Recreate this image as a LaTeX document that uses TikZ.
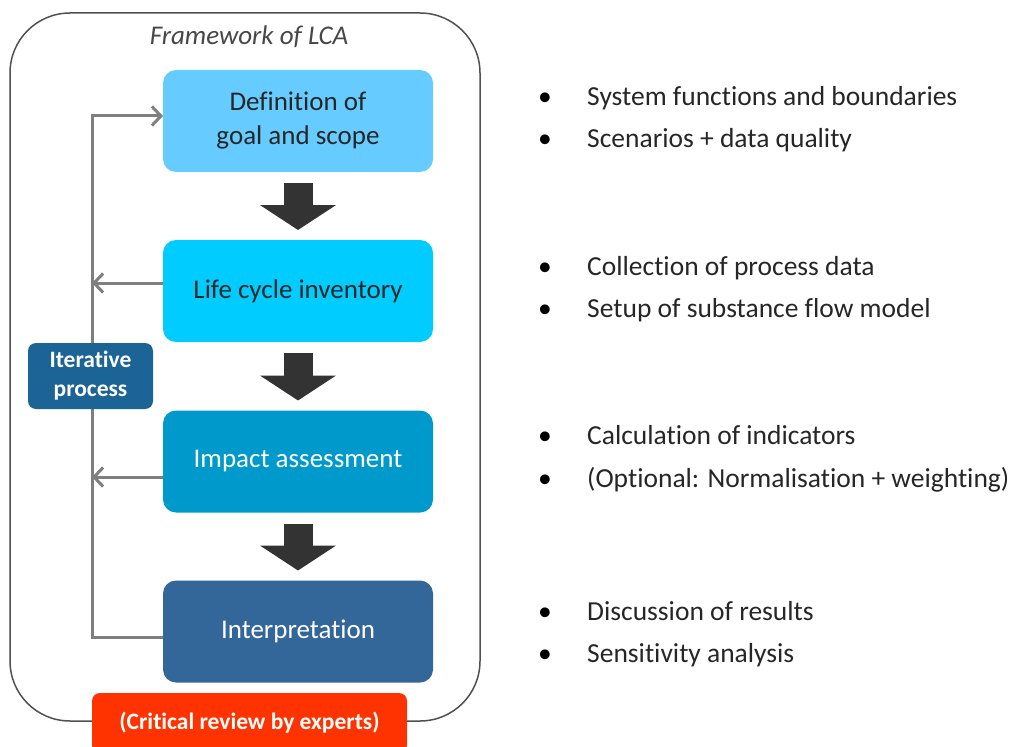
\documentclass[tikz,border=0pt]{standalone}
\usepackage{fontspec}
\setmainfont{Carlito}[Ligatures=NoCommon]
\usetikzlibrary{arrows.meta}

\definecolor{GoalBlue}{HTML}{66CCFF}
\definecolor{InvBlue}{HTML}{00CCFF}
\definecolor{ImpBlue}{HTML}{0099CC}
\definecolor{IntBlue}{HTML}{336699}
\definecolor{IterBlue}{HTML}{1C6496}
\definecolor{ReviewRed}{HTML}{FF3300}
\definecolor{LoopGray}{HTML}{7F7F7F}
\definecolor{ArrowGray}{HTML}{333333}
\definecolor{FrameGray}{HTML}{505050}
\definecolor{TextGray}{HTML}{262626}

\begin{document}
\begin{tikzpicture}[x=1pt,y=-1pt]
  \tikzset{BoxStyle/.style = {
    shape           = rectangle,
    rounded corners = 13pt,
    minimum width   = 270pt,
    minimum height  = 102pt,
    inner sep       = 0pt,
    outer sep       = 0pt,
    align           = center,
    font            = \fontsize{27}{34}\selectfont
    }
  }
  \tikzset{TagStyle/.style = {
    shape           = rectangle,
    rounded corners = 8pt,
    inner sep       = 0pt,
    outer sep       = 0pt,
    align           = center,
    text            = white,
    font            = \fontsize{23.5}{29}\selectfont\bfseries
    }
  }
  \tikzset{BlockArrow/.style = {
    draw            = ArrowGray,
    line width      = 29pt,
    shorten <=      11pt,
    shorten >=      10pt,
    -{Triangle[width=75pt,length=25pt]}
    }
  }
  \tikzset{LoopStyle/.style = {
    draw            = LoopGray,
    line width      = 3pt,
    -{Straight Barb[length=9pt,width=19pt]}
    }
  }
  \tikzset{ItemStyle/.style = {
    anchor          = base west,
    inner sep       = 0pt,
    text            = TextGray,
    font            = \fontsize{27.5}{33}\selectfont
    }
  }
  \tikzset{DotStyle/.style = {
    anchor          = base,
    inner sep       = 0pt,
    text            = black,
    font            = \fontsize{27.5}{33}\selectfont
    }
  }

  \useasboundingbox (0,0) rectangle (1016,746);
  \clip (0,0) rectangle (1016,746);

  % frame
  \draw[FrameGray, line width=1.5pt, rounded corners=60pt] (10,13) rectangle (480,721);
  \node[text=TextGray!85, font=\fontsize{27}{33}\selectfont\itshape] (T1) at (249,37) {Framework of LCA};

  % phases
  \node[BoxStyle, fill=GoalBlue, text=TextGray] (A1) at (298,121) {Definition of\\goal and scope};
  \node[BoxStyle, fill=InvBlue, text=TextGray] (B1) at (298,291) {Life cycle inventory};
  \node[BoxStyle, fill=ImpBlue, text=white] (C1) at (298,461.5) {Impact assessment};
  \node[BoxStyle, fill=IntBlue, text=white] (D1) at (298,631.5) {Interpretation};

  \draw[BlockArrow] (A1.south) -- (B1.north);
  \draw[BlockArrow] (B1.south) -- (C1.north);
  \draw[BlockArrow] (C1.south) -- (D1.north);

  % iteration loop
  \coordinate (L1) at (92,116);
  \coordinate (L2) at (92,283);
  \coordinate (L3) at (92,477);
  \coordinate (L4) at (92,637);
  \draw[LoopStyle] (D1.west |- L4) -| (L1) -- (A1.west |- L1);
  \draw[LoopStyle] (B1.west |- L2) -- (L2);
  \draw[LoopStyle] (C1.west |- L3) -- (L3);

  \node[TagStyle, fill=IterBlue, minimum width=125pt, minimum height=66pt] (I1) at (90.5,376) {Iterative\\process};
  \node[TagStyle, fill=ReviewRed, minimum width=315pt, minimum height=60pt] (R1) at (249.5,723) {(Critical review by experts)};

  % notes
  \node[DotStyle] (P1) at (545,106) {\textbullet};
  \node[ItemStyle] (N1) at (587,106) {System functions and boundaries};
  \node[DotStyle] (P2) at (545,148) {\textbullet};
  \node[ItemStyle] (N2) at (587,148) {Scenarios + data quality};
  \node[DotStyle] (P3) at (545,275) {\textbullet};
  \node[ItemStyle] (N3) at (587,275) {Collection of process data};
  \node[DotStyle] (P4) at (545,317) {\textbullet};
  \node[ItemStyle] (N4) at (587,317) {Setup of substance flow model};
  \node[DotStyle] (P5) at (545,444) {\textbullet};
  \node[ItemStyle] (N5) at (587,444) {Calculation of indicators};
  \node[DotStyle] (P6) at (545,487) {\textbullet};
  \node[ItemStyle] (N6) at (587,487) {(Optional: Normalisation + weighting)};
  \node[DotStyle] (P7) at (545,620) {\textbullet};
  \node[ItemStyle] (N7) at (587,620) {Discussion of results};
  \node[DotStyle] (P8) at (545,662) {\textbullet};
  \node[ItemStyle] (N8) at (587,662) {Sensitivity analysis};

\end{tikzpicture}
\end{document}
